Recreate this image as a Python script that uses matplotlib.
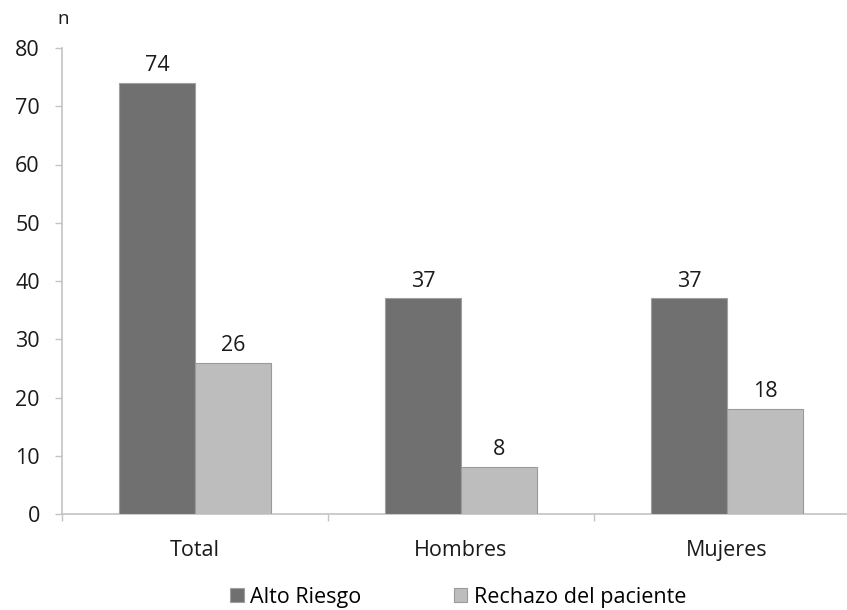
import numpy as np
import matplotlib.pyplot as plt

categories = ["Total", "Hombres", "Mujeres"]
alto_riesgo = [74, 37, 37]
rechazo = [26, 8, 18]
series_names = ["Alto Riesgo", "Rechazo del paciente"]

plt.rcParams["font.family"] = ["Open Sans", "DejaVu Sans"]

fig = plt.figure(figsize=(8.47, 6.10), dpi=100)
ax = fig.add_axes([62 / 847, 96 / 610, 798 / 847, 466 / 610])

x = np.arange(len(categories))
w = 0.286
axis_col = "#c4c4c4"
fs = 15.5

b1 = ax.bar(x - w / 2, alto_riesgo, w, color="#707070", edgecolor="#a0a0a0",
            linewidth=0.8, label=series_names[0], zorder=3)
b2 = ax.bar(x + w / 2, rechazo, w, color="#bdbdbd", edgecolor="#9a9a9a",
            linewidth=0.8, label=series_names[1], zorder=3)

for bars in (b1, b2):
    for rect in bars:
        h = rect.get_height()
        ax.annotate(f"{h:g}", (rect.get_x() + rect.get_width() / 2, h),
                    xytext=(0, 5), textcoords="offset points",
                    ha="center", va="bottom", fontsize=fs, color="#1a1a1a")

ax.set_xlim(-0.5, 2.5)
ax.set_ylim(0, 80)
ax.set_yticks(range(0, 81, 10))
ax.set_xticks(x)
ax.set_xticklabels(categories)
ax.set_xticks([-0.5, 0.5, 1.5, 2.5], minor=True)
ax.tick_params(axis="x", which="major", length=0, pad=19, labelsize=fs,
               labelcolor="#1a1a1a")
ax.tick_params(axis="x", which="minor", length=5, color=axis_col, width=1)
ax.tick_params(axis="y", length=5, color=axis_col, width=1, pad=11,
               labelsize=fs, labelcolor="#1a1a1a")

for s in ("top", "right"):
    ax.spines[s].set_visible(False)
for s in ("left", "bottom"):
    ax.spines[s].set_color(axis_col)
    ax.spines[s].set_linewidth(1.2)

fig.text(57 / 847, 1 - 19 / 610, "n", ha="left", va="center",
         fontsize=13.5, color="#1a1a1a")

fig.legend(loc="center", bbox_to_anchor=(0.541, 1 - 597 / 610), ncol=2,
           frameon=False, fontsize=fs, handlelength=0.62, handleheight=0.62,
           handletextpad=0.3, columnspacing=4.3)

fig.savefig("out.png", dpi=100)
